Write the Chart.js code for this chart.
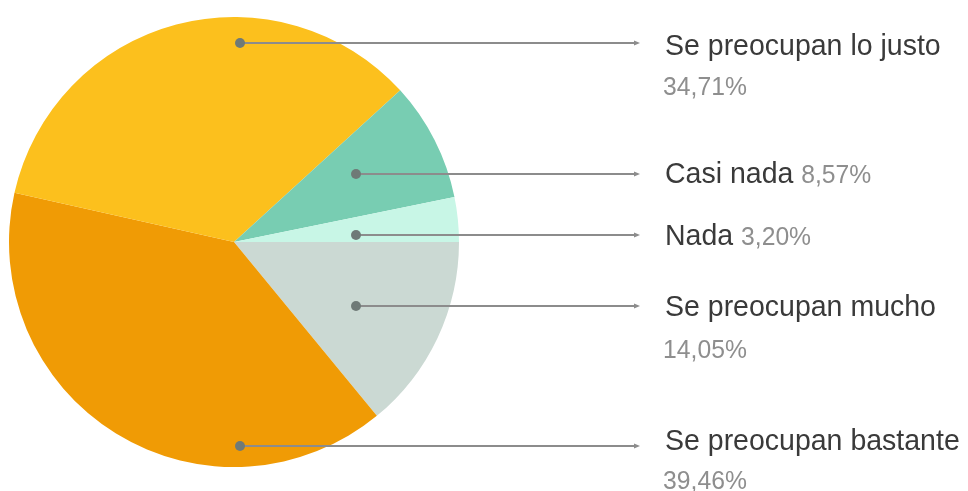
<!DOCTYPE html>
<html>
<head>
<meta charset="utf-8">
<script src="https://cdn.jsdelivr.net/npm/chart.js@4/dist/chart.umd.min.js"></script>
<style>
  html, body { margin: 0; padding: 0; background: #fff; }
  #wrap { width: 968px; height: 491px; }
</style>
</head>
<body>
<div id="wrap"><canvas id="myChart" width="968" height="491"></canvas></div>
<script>
const categories = ['Se preocupan mucho', 'Se preocupan bastante', 'Se preocupan lo justo', 'Casi nada', 'Nada'];
const values = [14.05, 39.46, 34.71, 8.57, 3.20];
const colors = ['#cbd9d3', '#f09b05', '#fcc01d', '#78cdb2', '#c8f6e6'];

// leader layout per slice: dot offset from pie centre, label rows, inline or two lines
const leaders = [
    { dx: 122, dy: 64, labelY: 308, pctY: 351, inline: false },
    { dx: 6, dy: 204, labelY: 442, pctY: 482, inline: false },
    { dx: 6, dy: -199, labelY: 47, pctY: 88, inline: false },
    { dx: 122, dy: -68, labelY: 175, inline: true },
    { dx: 122, dy: -7, labelY: 237, inline: true },
];

const fmt = v => v.toFixed(2).replace('.', ',') + '%';

const leaderPlugin = {
    id: 'leaders',
    afterDraw(chart) {
        const ctx = chart.ctx;
        const arcs = chart.getDatasetMeta(0).data;
        const textX = 665;
        const lineEnd = 638;
        const sx = 0.95;
        arcs.forEach((arc, i) => {
            const l = leaders[i];
            const cx = arc.x + l.dx;
            const cy = arc.y + l.dy;
            ctx.save();
            ctx.strokeStyle = '#8c8c8c';
            ctx.lineWidth = 2;
            ctx.beginPath();
            ctx.moveTo(cx, cy);
            ctx.lineTo(lineEnd - 3, cy);
            ctx.stroke();
            ctx.fillStyle = '#8c8c8c';
            ctx.beginPath();
            ctx.moveTo(lineEnd + 2, cy);
            ctx.lineTo(lineEnd - 4, cy - 2.5);
            ctx.lineTo(lineEnd - 4, cy + 2.5);
            ctx.closePath();
            ctx.fill();
            ctx.fillStyle = '#6f7a77';
            ctx.beginPath();
            ctx.arc(cx, cy, 5, 0, Math.PI * 2);
            ctx.fill();

            // slightly condensed text like the original
            ctx.translate(textX, 0);
            ctx.scale(sx, 1);
            ctx.textBaseline = 'middle';
            ctx.textAlign = 'left';
            ctx.font = '30px "Liberation Sans", Arial, sans-serif';
            ctx.fillStyle = '#3a3a3a';
            const label = categories[i];
            ctx.fillText(label, 0, l.labelY);
            ctx.fillStyle = '#8e8e8e';
            if (l.inline) {
                const w = ctx.measureText(label + ' ').width;
                ctx.font = '26px "Liberation Sans", Arial, sans-serif';
                ctx.fillText(fmt(values[i]), w, l.labelY + 1);
            } else {
                ctx.font = '26px "Liberation Sans", Arial, sans-serif';
                ctx.fillText(fmt(values[i]), -2, l.pctY);
            }
            ctx.restore();
        });
    }
};

const config = {
    type: 'pie',
    data: {
        labels: categories,
        datasets: [{
            data: values,
            backgroundColor: colors,
            borderWidth: 0
        }]
    },
    options: {
        responsive: false,
        animation: false,
        rotation: 90,
        layout: {
            padding: { left: 9, right: 509, top: 16, bottom: 23 }
        },
        plugins: {
            legend: { display: false },
            tooltip: { enabled: false }
        }
    },
    plugins: [leaderPlugin]
};

new Chart(document.getElementById('myChart'), config);
</script>
</body>
</html>
